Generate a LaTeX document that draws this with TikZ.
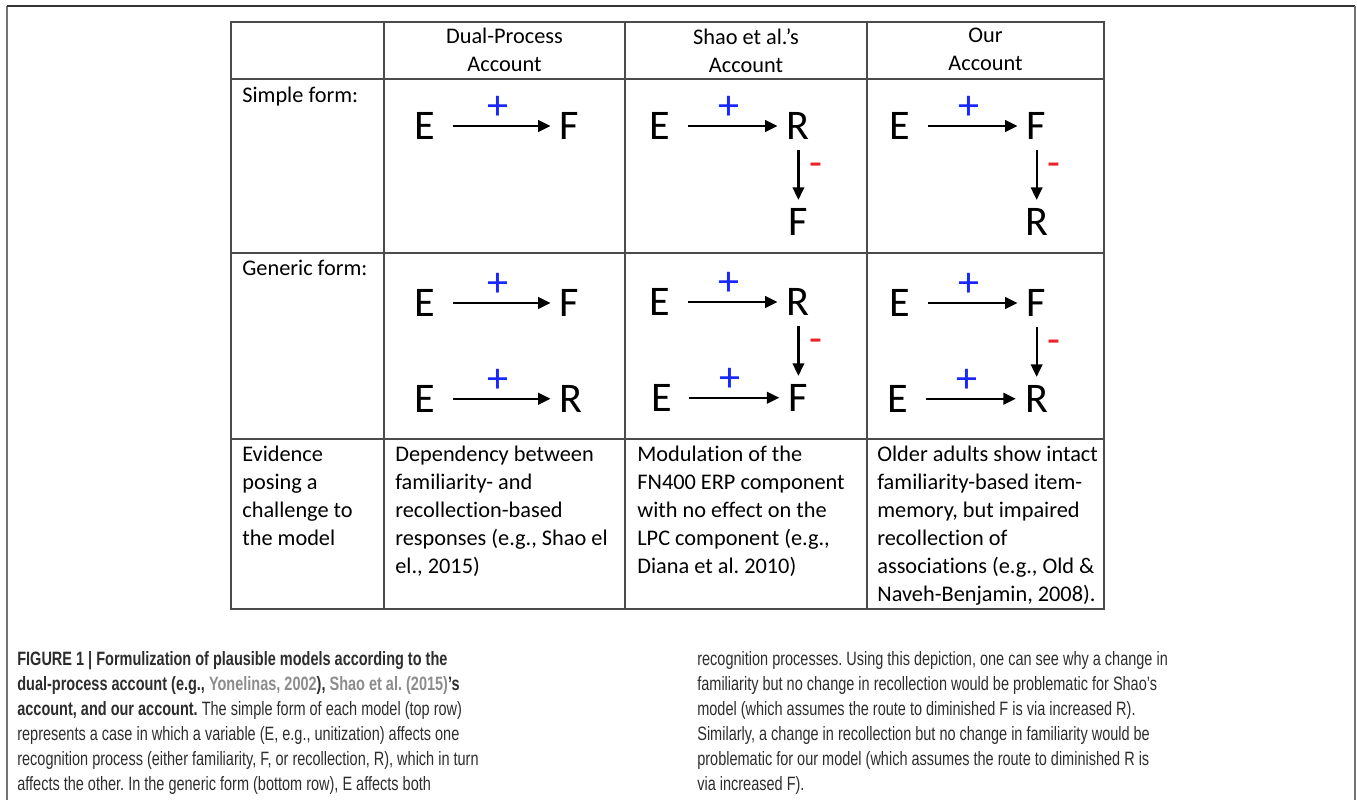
\documentclass[tikz,border=0pt]{standalone}
\usepackage{fontspec}
\setmainfont[Ligatures=NoCommon]{Carlito}
\newfontfamily\capfont[FakeStretch=0.75]{Liberation Sans}
\usepackage{xcolor}
\definecolor{tablegray}{RGB}{75,75,75}
\definecolor{framegray}{RGB}{115,115,115}
\definecolor{plusblue}{RGB}{25,40,250}
\definecolor{minusred}{RGB}{235,35,40}
\definecolor{citegray}{RGB}{140,140,140}
\definecolor{captext}{RGB}{45,45,45}
\usetikzlibrary{arrows.meta,positioning}
\frenchspacing

\begin{document}
\begin{tikzpicture}[x=0.02cm,y=-0.02cm,node distance=1.36cm and 2.32cm]
  \tikzstyle{cell}=[inner sep=0pt,font=\fontsize{12.7}{15.9}\selectfont]
  \tikzstyle{letter}=[inner sep=0pt,font=\fontsize{24}{24}\selectfont]
  \tikzstyle{possign}=[inner sep=0pt,font=\fontsize{24}{24}\selectfont,text=plusblue,above=0.1cm]
  \tikzstyle{negsign}=[inner sep=0pt,font=\fontsize{24}{24}\selectfont,text=minusred,right=0.19cm,yshift=0.08cm]
  \tikzstyle{hlink}=[line width=0.045cm,-{Triangle[length=0.25cm,width=0.23cm]},shorten <=0.34cm,shorten >=0.18cm]
  \tikzstyle{vlink}=[hlink,shorten <=0.2cm,shorten >=0.16cm]
  \tikzstyle{tableline}=[line width=0.03cm,draw=tablegray]
  \tikzstyle{capline}=[inner sep=0pt,anchor=north west,align=left,text=captext,font=\capfont\fontsize{11}{14.2}\selectfont]
  \useasboundingbox (0,0) rectangle (1357,800);
  \draw[line width=0.04cm,draw=framegray] (7,800) -- (7,6);
  \draw[line width=0.04cm,draw=black!80] (7,6) -- (1355,6);
  \draw[line width=0.04cm,draw=framegray] (1355,6) -- (1355,800);
  % table
  \draw[tableline] (231,22) rectangle (1104,609);
  \foreach \x in {384,625,867} \draw[tableline] (\x,22) -- (\x,609);
  \foreach \y in {79,253,439} \draw[tableline] (231,\y) -- (1104,\y);
  \node[cell,align=center,anchor=north] (hdual) at (504.5,28) {Dual-Process\\Account};
  \node[cell,align=center,anchor=north] (hshao) at (746,28) {Shao et al.’s\\Account};
  \node[cell,align=center,anchor=north] (hour) at (985.5,28) {Our\\Account};
  \node[cell,anchor=north west,align=left] (lsimple) at (242,87) {Simple form:};
  \node[cell,anchor=north west,align=left] (lgeneric) at (242,260) {Generic form:};
  \node[cell,anchor=north west,align=left] (levid) at (242,446) {Evidence\\posing a\\challenge to\\the model};
  % simple form
  \node[letter] (dsE) at (425,126) {E};
  \node[letter,right=2.48cm of dsE] (dsF) {F};
  \draw[hlink] (dsE) -- node[possign]{+} (dsF);
  \node[letter] (ssE) at (660,126) {E};
  \node[letter,right=of ssE] (ssR) {R};
  \node[letter,below=of ssR] (ssF) {F};
  \draw[hlink] (ssE) -- node[possign]{+} (ssR);
  \draw[vlink] (ssR) -- node[negsign]{-} (ssF);
  \node[letter] (osE) at (900,126) {E};
  \node[letter,right=of osE] (osF) {F};
  \node[letter,below=of osF] (osR) {R};
  \draw[hlink] (osE) -- node[possign]{+} (osF);
  \draw[vlink] (osF) -- node[negsign]{-} (osR);
  % generic form
  \node[letter] (dgE1) at (425,303) {E};
  \node[letter,right=2.48cm of dgE1] (dgF) {F};
  \node[letter,below=of dgE1] (dgE2) {E};
  \node[letter,right=2.48cm of dgE2] (dgR) {R};
  \draw[hlink] (dgE1) -- node[possign]{+} (dgF);
  \draw[hlink] (dgE2) -- node[possign]{+} (dgR);
  \node[letter] (sgE1) at (660,302) {E};
  \node[letter,right=of sgE1] (sgR) {R};
  \node[letter,below=of sgR] (sgF) {F};
  \node[letter,left=of sgF] (sgE2) {E};
  \draw[hlink] (sgE1) -- node[possign]{+} (sgR);
  \draw[vlink] (sgR) -- node[negsign]{-} (sgF);
  \draw[hlink] (sgE2) -- node[possign]{+} (sgF);
  \node[letter] (ogE1) at (900,303) {E};
  \node[letter,right=of ogE1] (ogF) {F};
  \node[letter,below=of ogF] (ogR) {R};
  \node[letter,left=of ogR] (ogE2) {E};
  \draw[hlink] (ogE1) -- node[possign]{+} (ogF);
  \draw[vlink] (ogF) -- node[negsign]{-} (ogR);
  \draw[hlink] (ogE2) -- node[possign]{+} (ogR);
  % evidence
  \node[cell,anchor=north west,align=left] (edual) at (395,446) {Dependency between\\familiarity- and\\recollection-based\\responses (e.g., Shao el\\el., 2015)};
  \node[cell,anchor=north west,align=left] (eshao) at (637,446) {Modulation of the\\FN400 ERP component\\with no effect on the\\LPC component (e.g.,\\Diana et al. 2010)};
  \node[cell,anchor=north west,align=left] (eour) at (877,446) {Older adults show intact\\familiarity-based item-\\memory, but impaired\\recollection of\\associations (e.g., Old \&\\Naveh-Benjamin, 2008).};
  % caption
  \node[capline] (capleft) at (17,651) {\textbf{FIGURE 1 | Formulization of plausible models according to the}\\
    \textbf{dual-process account (e.g., {\color{citegray}Yonelinas, 2002}), {\color{citegray}Shao et al. (2015)}’s}\\
    \textbf{account, and our account.} The simple form of each model (top row)\\
    represents a case in which a variable (E, e.g., unitization) affects one\\
    recognition process (either familiarity, F, or recollection, R), which in turn\\
    affects the other. In the generic form (bottom row), E affects both};
  \node[capline] (capright) at (697,651) {recognition processes. Using this depiction, one can see why a change in\\
    familiarity but no change in recollection would be problematic for Shao’s\\
    model (which assumes the route to diminished F is via increased R).\\
    Similarly, a change in recollection but no change in familiarity would be\\
    problematic for our model (which assumes the route to diminished R is\\
    via increased F).};
\end{tikzpicture}
\end{document}
